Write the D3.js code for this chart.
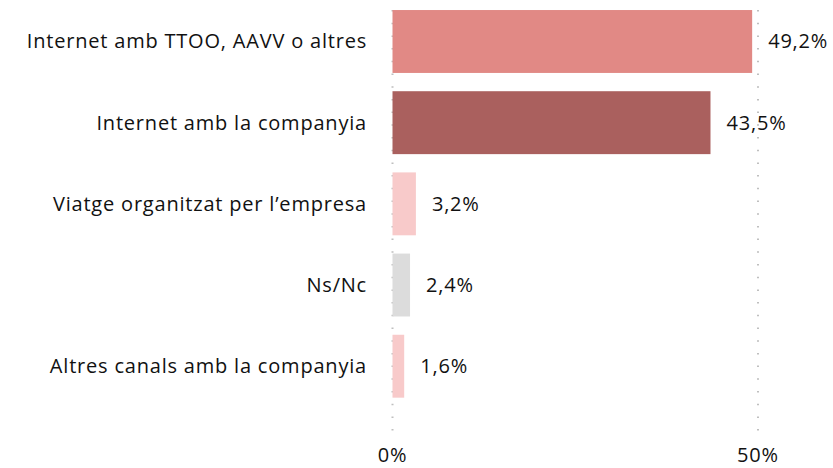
<!DOCTYPE html>
<html>
<head>
<meta charset="utf-8">
<script src="https://cdn.jsdelivr.net/npm/d3@7"></script>
<style>
  html, body { margin: 0; padding: 0; background: #fff; }
  svg { display: block; }
  text { font-family: "Open Sans", sans-serif; fill: #111; letter-spacing: 0.8px; }
</style>
</head>
<body>
<svg id="chart" width="833" height="468"></svg>
<script>
const categories = [
  "Internet amb TTOO, AAVV o altres",
  "Internet amb la companyia",
  "Viatge organitzat per l\u2019empresa",
  "Ns/Nc",
  "Altres canals amb la companyia"
];
const values = [49.2, 43.5, 3.2, 2.4, 1.6];
const colors = ["#E18985", "#AA605E", "#F8CACA", "#DCDCDC", "#F8CACA"];
const tickValues = [0, 50];
const tickLabels = ["0%", "50%"];

const svg = d3.select("#chart");
const fontSize = 20;

const x = d3.scaleLinear().domain([0, 50]).range([392.5, 758]);
const y = d3.scaleBand().domain(categories).range([0.9, 406.8])
  .paddingInner(0.225).paddingOuter(0.1125);

// dotted gridlines
svg.append("g").selectAll("line").data(tickValues).join("line")
  .attr("x1", d => x(d)).attr("x2", d => x(d))
  .attr("y1", 10).attr("y2", 434)
  .attr("stroke", "#BFBFBF").attr("stroke-width", 2)
  .attr("stroke-dasharray", "1.5,11.2");

// bars
svg.append("g").selectAll("rect").data(values).join("rect")
  .attr("x", x(0))
  .attr("y", (d, i) => y(categories[i]))
  .attr("width", d => x(d) - x(0))
  .attr("height", y.bandwidth())
  .attr("fill", (d, i) => colors[i]);

// category labels
svg.append("g").selectAll("text").data(categories).join("text")
  .attr("x", x(0) - 25.5)
  .attr("y", d => y(d) + y.bandwidth() / 2)
  .attr("dy", "0.35em")
  .attr("text-anchor", "end")
  .attr("font-size", fontSize)
  .text(d => d);

// value labels
svg.append("g").selectAll("text").data(values).join("text")
  .attr("x", d => x(d) + 16)
  .attr("y", (d, i) => y(categories[i]) + y.bandwidth() / 2)
  .attr("dy", "0.35em")
  .attr("font-size", fontSize)
  .text(d => d.toFixed(1).replace(".", ",") + "%");

// axis tick labels
svg.append("g").selectAll("text").data(tickValues).join("text")
  .attr("x", d => x(d))
  .attr("y", 462)
  .attr("font-size", fontSize)
  .attr("text-anchor", "middle")
  .text((d, i) => tickLabels[i]);
</script>
</body>
</html>
